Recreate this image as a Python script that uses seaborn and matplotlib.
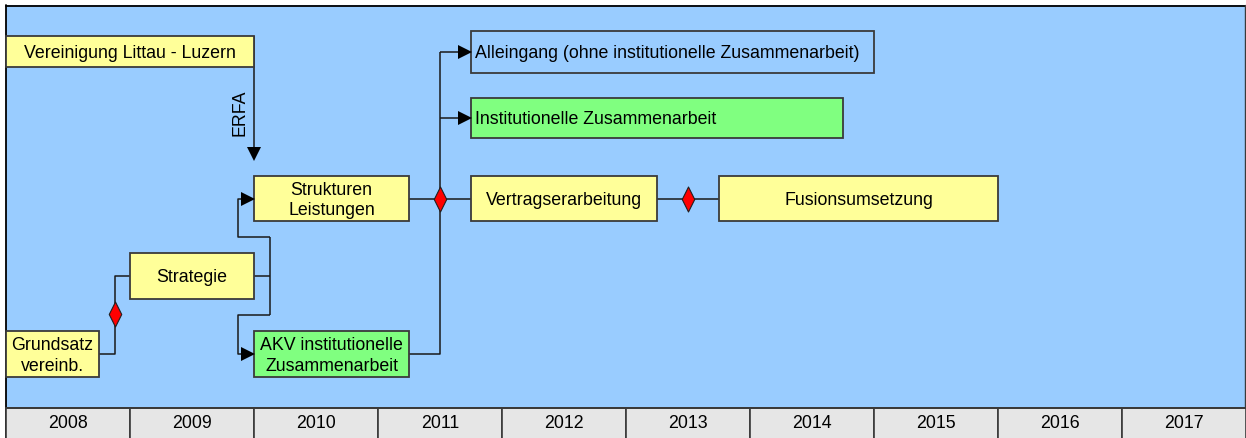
import matplotlib
matplotlib.use("Agg")
import matplotlib.pyplot as plt
from matplotlib.patches import Rectangle
from matplotlib.path import Path
import seaborn as sns

# ---------------- data ----------------
task_names = [
    "Vereinigung Littau - Luzern",
    "Strukturen\nLeistungen",
    "Strategie",
    "Grundsatz\nvereinb.",
    "AKV institutionelle\nZusammenarbeit",
    "Alleingang (ohne institutionelle Zusammenarbeit)",
    "Institutionelle Zusammenarbeit",
    "Vertragserarbeitung",
    "Fusionsumsetzung",
]
task_start = [2008.0, 2010.0, 2009.0, 2008.0, 2010.0, 2011.75, 2011.75, 2011.75, 2013.75]
task_end = [2010.0, 2011.25, 2010.0, 2008.75, 2011.25, 2015.0, 2014.75, 2013.25, 2016.0]
task_kind = ["gelb", "gelb", "gelb", "gelb", "gruen", "leer", "gruen", "gelb", "gelb"]
milestone_years = [2008.875, 2011.5, 2013.5]
years = list(range(2008, 2018))
erfa_label = "ERFA"

# ---------------- layout / style ----------------
PX = 124.0  # pixels per year
W, H = 1246, 439
box_top = [37, 177, 254, 332, 332, 32, 99, 177, 177]
box_bot = [68, 222, 300, 378, 378, 74, 139, 222, 222]
text_align = ["center"] * 5 + ["left", "left"] + ["center"] * 2
milestone_y = [315, 199.5, 199.5]

fill = {"gelb": "#FFFF99", "gruen": "#80FF80", "leer": "#99CCFF"}
BLUE = "#99CCFF"
GRAY = "#E6E6E6"
EDGE = "#3a3a3a"
LINE = "#1a1a1a"

sns.set_theme(style="white")
plt.rcParams["font.family"] = ["Liberation Sans", "DejaVu Sans"]
FS = 12.8

fig = plt.figure(figsize=(W / 100, H / 100), dpi=100)
ax = fig.add_axes([0, 0, 1, 1])
x0 = 2008 - 6 / PX
ax.set_xlim(x0, x0 + W / PX)
ax.set_ylim(H, 0)
ax.axis("off")
fig.patch.set_facecolor("white")

def px(n):
    return n / PX

# background
ax.add_patch(Rectangle((2008, 6), 10 - px(1), 403, facecolor=BLUE,
                       edgecolor="none", zorder=0))
ax.plot([2008, 2018 - px(1)], [6.5, 6.5], color="black", lw=1.3, zorder=1)
ax.plot([2008, 2008], [6, 439], color="black", lw=1.3, zorder=1)
ax.plot([2018 - px(1), 2018 - px(1)], [6, 409], color=EDGE, lw=1.0, zorder=1)

# timeline strip
for y in years:
    ax.add_patch(Rectangle((y, 409), 1, 40, facecolor=GRAY, edgecolor=EDGE,
                           lw=1.2, zorder=1))
    ax.text(y + 0.5, 424, str(y), ha="center", va="center", fontsize=FS,
            color="black", zorder=2)
ax.plot([2008, 2018], [409, 409], color=EDGE, lw=1.4, zorder=2)

# connectors
def seg(xs, ys):
    ax.plot(xs, ys, color=LINE, lw=1.1, zorder=2, solid_capstyle="butt")

def arrow_right(xtip, y):
    ax.plot([xtip - px(6)], [y], marker=">", markersize=10, color="black",
            markeredgewidth=0, zorder=4)

# Vereinigung -> Strukturen (ERFA)
seg([2010.0, 2010.0], [37, 152])
ax.plot([2010.0], [155], marker="v", markersize=10, color="black",
        markeredgewidth=0, zorder=4)
ax.text(2010.0 - px(14), 113, erfa_label, rotation=90, ha="center",
        va="center", fontsize=FS, color="black", zorder=3)

# Grundsatz -> Strategie
xm = milestone_years[0]
seg([2008.75, xm, xm, 2009.0], [355, 355, 277, 277])

# Strategie -> Strukturen / AKV
xa = 2010 + px(16)
xb = 2010 - px(16)
seg([2010.0, xa], [277, 277])
seg([xa, xa], [238, 316])
seg([xa, xb, xb, 2010 - px(10)], [238, 238, 199.5, 199.5])
seg([xa, xb, xb, 2010 - px(10)], [316, 316, 355, 355])
arrow_right(2010.0, 199.5)
arrow_right(2010.0, 355)

# Strukturen -> Vertragserarbeitung
seg([2011.25, 2011.75], [199.5, 199.5])
# AKV -> Alleingang / Institutionelle
seg([2011.25, 2011.5, 2011.5], [355, 355, 53])
seg([2011.5, 2011.75 - px(10)], [53, 53])
seg([2011.5, 2011.75 - px(10)], [119, 119])
arrow_right(2011.75, 53)
arrow_right(2011.75, 119)
# Vertrag -> Fusion
seg([2013.25, 2013.75], [199.5, 199.5])

# task boxes
for name, s, e, k, t, b, al in zip(task_names, task_start, task_end, task_kind,
                                   box_top, box_bot, text_align):
    ax.barh(y=(t + b) / 2, width=e - s, left=s, height=b - t,
            color=fill[k], edgecolor=EDGE, linewidth=1.3, zorder=3)
    if al == "center":
        ax.text((s + e) / 2, (t + b) / 2 + 1, name, ha="center", va="center",
                fontsize=FS, color="black", linespacing=1.3, zorder=5)
    else:
        ax.text(s + px(4), (t + b) / 2 + 1, name, ha="left", va="center",
                fontsize=FS, color="black", zorder=5)

# milestones (diamonds)
diamond = Path([(0, -1), (0.5, 0), (0, 1), (-0.5, 0), (0, -1)],
               [Path.MOVETO, Path.LINETO, Path.LINETO, Path.LINETO, Path.CLOSEPOLY])
ax.plot(milestone_years, milestone_y, linestyle="none", marker=diamond,
        markersize=18, markerfacecolor="#FF0000", markeredgecolor="#202020",
        markeredgewidth=0.8, zorder=6)

fig.savefig("out.png", dpi=100, facecolor="white")
